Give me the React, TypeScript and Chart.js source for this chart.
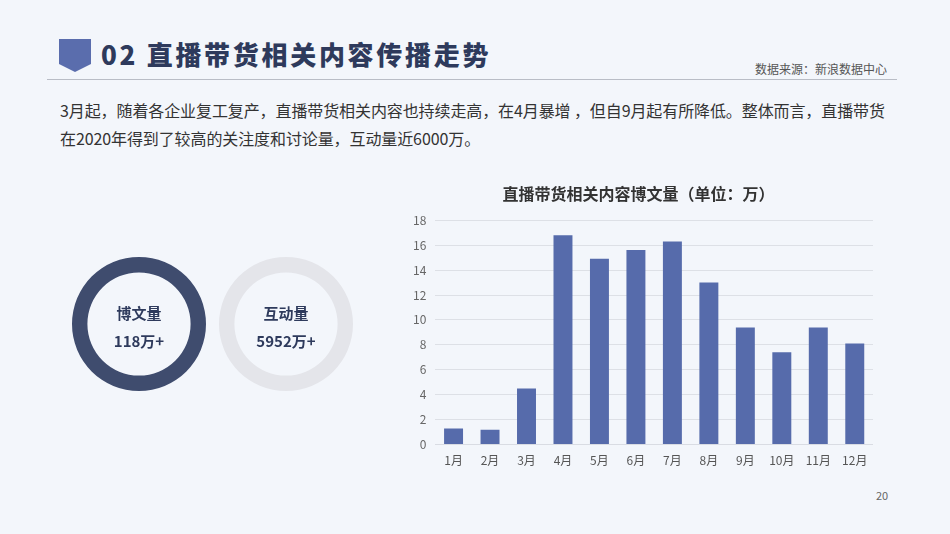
import { useRef, useEffect } from 'react';
import { Chart, registerables } from 'chart.js';

Chart.register(...registerables);

const months = ['1月', '2月', '3月', '4月', '5月', '6月', '7月', '8月', '9月', '10月', '11月', '12月'];
const postCounts = [1.3, 1.2, 4.5, 16.8, 14.9, 15.6, 16.3, 13.0, 9.4, 7.4, 9.4, 8.1];
const yTicks = [0, 2, 4, 6, 8, 10, 12, 14, 16, 18];

const rings = [
    { label: '博文量', value: '118万+', color: '#3F4C6E', share: [1] },
    { label: '互动量', value: '5952万+', color: '#E4E5EA', share: [1] },
];

const FONT = '"Noto Sans CJK SC", "Liberation Sans", sans-serif';
const DARK = '#2E3A5C';

const Ring = ({ color, share }: { color: string; share: number[] }) => {
    const ref = useRef<HTMLCanvasElement | null>(null);

    useEffect(() => {
        if (!ref.current) return;
        const chart = new Chart(ref.current, {
            type: 'doughnut',
            data: {
                labels: ['total'],
                datasets: [{ data: share, backgroundColor: [color], borderWidth: 0 }],
            },
            options: {
                animation: false,
                responsive: false,
                cutout: '77%',
                plugins: { legend: { display: false }, tooltip: { enabled: false } },
            },
        });
        return () => chart.destroy();
    }, [color, share]);

    return <canvas ref={ref} width={134} height={134} style={{ width: 134, height: 134 }} />;
};

const BarChart = () => {
    const ref = useRef<HTMLCanvasElement | null>(null);

    useEffect(() => {
        if (!ref.current) return;
        const chart = new Chart(ref.current, {
            type: 'bar',
            data: {
                labels: months,
                datasets: [
                    {
                        label: '博文量',
                        data: postCounts,
                        backgroundColor: '#566BAB',
                        categoryPercentage: 1,
                        barPercentage: 0.52,
                    },
                ],
            },
            options: {
                animation: false,
                responsive: true,
                maintainAspectRatio: false,
                layout: { padding: 0 },
                plugins: {
                    legend: { display: false },
                    tooltip: { enabled: false },
                    title: {
                        display: true,
                        text: '直播带货相关内容博文量（单位：万）',
                        color: '#333333',
                        font: { family: FONT, size: 16, weight: 'bold' },
                        padding: { top: 0, bottom: 17 },
                    },
                },
                scales: {
                    x: {
                        grid: { display: false },
                        border: { color: '#D9DCE3' },
                        ticks: { color: '#555555', font: { family: FONT, size: 12 }, padding: 1 },
                    },
                    y: {
                        min: yTicks[0],
                        max: yTicks[yTicks.length - 1],
                        afterBuildTicks: (axis) => {
                            axis.ticks = yTicks.map((v) => ({ value: v }));
                        },
                        grid: { color: '#DDE0E6', drawTicks: false },
                        border: { display: false },
                        ticks: { color: '#666666', font: { family: FONT, size: 12 }, padding: 9 },
                    },
                },
            },
        });
        return () => chart.destroy();
    }, []);

    return <canvas ref={ref} />;
};

export default function App() {
    return (
        <div
            style={{
                position: 'fixed',
                left: 0,
                top: 0,
                width: 950,
                height: 534,
                background: '#F3F6FB',
                fontFamily: FONT,
                overflow: 'hidden',
            }}
        >
            {/* header badge */}
            <svg style={{ position: 'absolute', left: 59, top: 39 }} width={32} height={33}>
                <polygon points="0,0 32,0 32,25 16,33 0,25" fill="#5A6DAD" />
            </svg>
            <div
                style={{
                    position: 'absolute',
                    left: 101,
                    top: 36,
                    fontSize: 26,
                    fontWeight: 900,
                    color: DARK,
                    letterSpacing: 2.7,
                    lineHeight: '36px',
                    whiteSpace: 'nowrap',
                }}
            >
                02&nbsp;直播带货相关内容传播走势
            </div>
            <div
                style={{
                    position: 'absolute',
                    right: 63,
                    top: 61,
                    fontSize: 12,
                    color: '#555',
                    lineHeight: '16px',
                }}
            >
                数据来源：新浪数据中心
            </div>
            <div
                style={{
                    position: 'absolute',
                    left: 47,
                    top: 79,
                    width: 850,
                    height: 1,
                    background: '#B9BDC6',
                }}
            />
            <div
                style={{
                    position: 'absolute',
                    left: 60,
                    top: 96,
                    width: 860,
                    fontSize: 16,
                    lineHeight: '28px',
                    color: '#333',
                    whiteSpace: 'nowrap',
                    letterSpacing: -0.1,
                }}
            >
                3月起，随着各企业复工复产，直播带货相关内容也持续走高，在4月暴增 ，但自9月起有所降低。整体而言，直播带货
                <br />
                在2020年得到了较高的关注度和讨论量，互动量近6000万。
            </div>

            {rings.map((r, i) => (
                <div key={r.label} style={{ position: 'absolute', left: 72 + i * 147, top: 257, width: 134, height: 134 }}>
                    <Ring color={r.color} share={r.share} />
                    <div
                        style={{
                            position: 'absolute',
                            left: 0,
                            top: 44,
                            width: 134,
                            textAlign: 'center',
                            fontSize: 15,
                            fontWeight: 'bold',
                            color: DARK,
                            lineHeight: '24px',
                        }}
                    >
                        {r.label}
                    </div>
                    <div
                        style={{
                            position: 'absolute',
                            left: 0,
                            top: 72,
                            width: 134,
                            textAlign: 'center',
                            fontSize: 15,
                            fontWeight: 'bold',
                            color: DARK,
                            lineHeight: '24px',
                        }}
                    >
                        {r.value}
                    </div>
                </div>
            ))}

            <div style={{ position: 'absolute', left: 404, top: 184, width: 469, height: 285 }}>
                <BarChart />
            </div>

            <div style={{ position: 'absolute', left: 876, top: 487, fontSize: 11, color: '#666' }}>20</div>
        </div>
    );
}
